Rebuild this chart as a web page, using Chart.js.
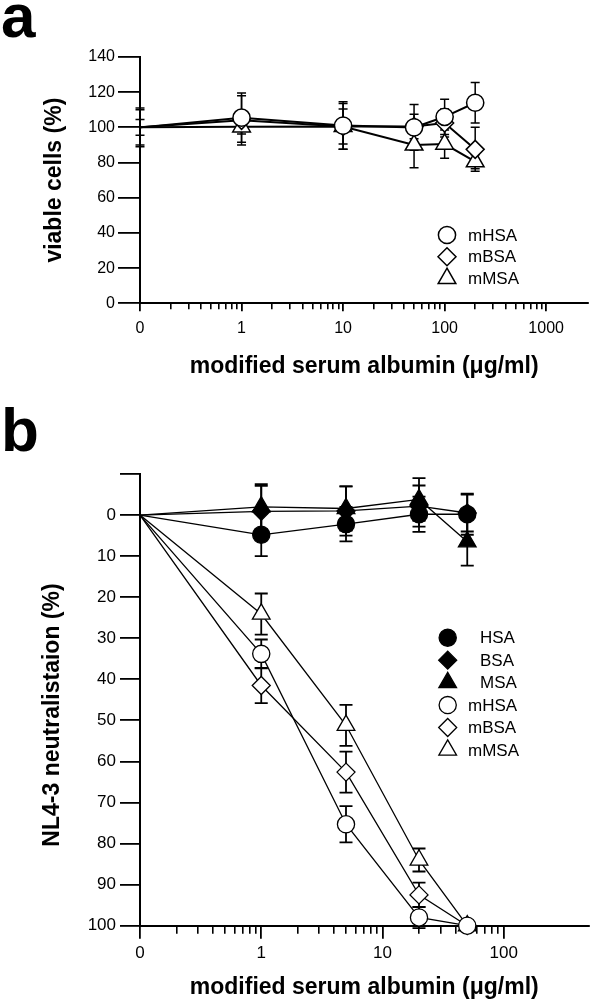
<!DOCTYPE html>
<html><head><meta charset="utf-8">
<script src="https://cdn.jsdelivr.net/npm/chart.js@4.4.1/dist/chart.umd.min.js"></script>
<style>
html,body{margin:0;padding:0;background:#fff;}
#wrap{position:relative;width:600px;height:1003px;overflow:hidden;background:#fff;}
canvas{position:absolute;left:0;}
.lbl{position:absolute;font-family:"Liberation Sans",Arial,Helvetica,sans-serif;font-weight:bold;font-size:62px;line-height:62px;color:#000;}
</style></head><body>
<div id="wrap">
<div class="lbl" style="left:1px;top:-15px">a</div>
<div class="lbl" style="left:1px;top:399px">b</div>
<canvas id="ca" width="600" height="400" style="top:0"></canvas>
<canvas id="cb" width="600" height="603" style="top:400px"></canvas>
</div>
<script>
const FONT = '"Liberation Sans", Arial, Helvetica, sans-serif';
const ZERO_AT = 0.1; // log-axis position where concentration 0 is plotted

// ---------- Panel a : viable cells (%) ----------
const concA = [0, 1, 10, 50, 100, 200];
const a_mHSA = [100, 105.5, 101, 100, 106, 114];
const a_mHSA_err = [11, 14, 13.5, 13, 10, 11.5];
const a_mBSA = [100, 104, 100.5, 100.5, 102.5, 87.5];
const a_mBSA_err = [10, 14, 13, 7, 8, 12.5];
const a_mMSA = [100, 100.3, 100.5, 90, 90.5, 80.5];
const a_mMSA_err = [4.5, 4, 10, 13, 8, 4];
const namesA = ['mHSA', 'mBSA', 'mMSA'];
const xMajorA = [0.1, 1, 10, 100, 1000];
const xLabelsA = ['0', '1', '10', '100', '1000'];
const xMinorA = [0.2,0.3,0.4,0.5,0.6,0.7,0.8,0.9, 2,3,4,5,6,7,8,9, 20,30,40,50,60,70,80,90, 200,300,400,500,600,700,800,900];
const yTicksA = [0, 20, 40, 60, 80, 100, 120, 140];

// ---------- Panel b : NL4-3 neutralisation (%) ----------
const concB = [0, 1, 5, 20, 50];
const b_HSA = [0, 4.8, 2.2, -0.2, -0.2];
const b_HSA_err = [0, 5.2, 4.2, 4.3, 5];
const b_BSA = [0, -0.9, -1.0, -2.2, -0.5];
const b_BSA_err = [0, 6.2, 6, 5, 4.5];
const b_MSA = [0, -2.0, -1.6, -3.8, 6.5];
const b_MSA_err = [0, 5.5, 5.4, 5.2, 5.8];
const b_mHSA = [0, 33.8, 75.3, 98, 100];
const b_mHSA_err = [0, 3.5, 4.4, 2.6, 0];
const b_mBSA = [0, 41.5, 62.6, 92.5, 100];
const b_mBSA_err = [0, 4.3, 5, 3, 0];
const b_mMSA = [0, 24.1, 51.2, 84.0, 100];
const b_mMSA_err = [0, 5, 5, 2.8, 0];
const namesB = ['HSA', 'BSA', 'MSA', 'mHSA', 'mBSA', 'mMSA'];
const xMajorB = [0.1, 1, 10, 100];
const xLabelsB = ['0', '1', '10', '100'];
const xMinorB = [0.2,0.3,0.4,0.5,0.6,0.7,0.8,0.9, 2,3,4,5,6,7,8,9, 20,30,40,50,60,70,80,90];
const yTicksB = [-10, 0, 10, 20, 30, 40, 50, 60, 70, 80, 90, 100];
const yLabelsB = ['', '0', '10', '20', '30', '40', '50', '60', '70', '80', '90', '100'];

// ---------- helpers ----------
const pts = (conc, vals) => conc.map((c, i) => ({x: c === 0 ? ZERO_AT : c, y: vals[i]}));
const STYLE = {circle: 8.6, rectRot: 9, triangle: 10.2};

function ds(label, conc, vals, errs, style, filled, lineW, ptBorder) {
  const r = STYLE[style];
  const radii = conc.map(c => (c === 0 ? 0 : r)); // no symbol at the zero-concentration start point
  return {
    label, data: pts(conc, vals), errors: errs, markerR: r,
    borderColor: '#000', borderWidth: lineW,
    pointStyle: style, pointRadius: radii, pointHoverRadius: radii,
    pointBackgroundColor: filled ? '#000' : '#fff', pointBorderColor: '#000',
    pointBorderWidth: ptBorder, tension: 0, fill: false, clip: false
  };
}

function markerPath(ctx, style, x, y, r) {
  ctx.beginPath();
  if (style === 'circle') { ctx.arc(x, y, r, 0, Math.PI * 2); }
  else if (style === 'rectRot') { ctx.moveTo(x - r, y); ctx.lineTo(x, y - r); ctx.lineTo(x + r, y); ctx.lineTo(x, y + r); }
  else if (style === 'triangle') {
    ctx.moveTo(x, y - r);
    ctx.lineTo(x + Math.sin(2 * Math.PI / 3) * r, y + 0.5 * r);
    ctx.lineTo(x - Math.sin(2 * Math.PI / 3) * r, y + 0.5 * r);
  }
  ctx.closePath();
}

const errorBars = {
  id: 'errorBars',
  beforeDatasetsDraw(chart, args, o) {
    const ctx = chart.ctx, ys = chart.scales.y;
    ctx.save();
    ctx.strokeStyle = '#000';
    ctx.lineWidth = o.lineWidth;
    chart.data.datasets.forEach((d, di) => {
      const meta = chart.getDatasetMeta(di);
      meta.data.forEach((p, i) => {
        const e = d.errors[i];
        if (!e) return;
        const v = d.data[i].y;
        const y1 = ys.getPixelForValue(v - e), y2 = ys.getPixelForValue(v + e);
        ctx.beginPath();
        ctx.moveTo(p.x, y1); ctx.lineTo(p.x, y2);
        ctx.moveTo(p.x - o.cap, y1); ctx.lineTo(p.x + o.cap, y1);
        ctx.moveTo(p.x - o.cap, y2); ctx.lineTo(p.x + o.cap, y2);
        ctx.stroke();
      });
    });
    ctx.restore();
  }
};

const innerLegend = {
  id: 'innerLegend',
  afterDraw(chart, args, o) {
    const ctx = chart.ctx;
    ctx.save();
    ctx.font = o.fontSize + 'px ' + FONT;
    ctx.textBaseline = 'middle';
    ctx.textAlign = 'left';
    chart.data.datasets.forEach((d, i) => {
      const y = o.y0 + i * o.dy;
      markerPath(ctx, d.pointStyle, o.markerX, y, d.markerR);
      ctx.fillStyle = d.pointBackgroundColor;
      ctx.fill();
      ctx.lineWidth = d.pointBorderWidth;
      ctx.strokeStyle = '#000';
      ctx.stroke();
      ctx.fillStyle = '#000';
      ctx.fillText(d.label, o.textX[i], y + 1);
    });
    ctx.restore();
  }
};

// y-axis title drawn at a set centre (the reference title is not centred on the axis)
const sideTitle = {
  id: 'sideTitle',
  afterDraw(chart, args, o) {
    if (!o.text) return;
    const ctx = chart.ctx;
    ctx.save();
    ctx.translate(o.x, o.y);
    ctx.rotate(-Math.PI / 2);
    ctx.font = 'bold ' + o.size + 'px ' + FONT;
    ctx.fillStyle = '#000';
    ctx.textAlign = 'center';
    ctx.textBaseline = 'middle';
    ctx.fillText(o.text, 0, 0);
    ctx.restore();
  }
};

function xAxes(major, labels, minor, maxV, majorLen, minorLen, fontSize, labPad, axisH, titlePadBottom) {
  return {
    x: {
      type: 'logarithmic', position: 'bottom', min: ZERO_AT, max: maxV, weight: 1,
      afterBuildTicks: s => { s.ticks = major.map(v => ({value: v})); },
      afterFit: s => { s.height = axisH; },
      grid: {drawOnChartArea: false, drawTicks: true, tickLength: majorLen, color: '#000', lineWidth: 1.8},
      border: {display: true, color: '#000', width: 2},
      ticks: {autoSkip: false, maxRotation: 0, color: '#000', padding: labPad,
        font: {family: FONT, size: fontSize}, callback: (v, i) => labels[i]},
      title: {display: true, text: 'modified serum albumin (μg/ml)', color: '#000',
        font: {family: FONT, size: 23, weight: 'bold'}, padding: {top: 0, bottom: titlePadBottom}}
    },
    xm: {
      type: 'logarithmic', position: 'bottom', min: ZERO_AT, max: maxV, weight: 0,
      afterBuildTicks: s => { s.ticks = minor.map(v => ({value: v})); },
      afterFit: s => { s.height = 0; },
      grid: {drawOnChartArea: false, drawTicks: true, tickLength: minorLen, color: '#000', lineWidth: 1.6},
      border: {display: false},
      ticks: {autoSkip: false, maxRotation: 0, padding: 0, font: {size: 1}, callback: () => ''}
    }
  };
}

// ---------- Panel a chart ----------
new Chart(document.getElementById('ca'), {
  type: 'line',
  data: {datasets: [
    ds(namesA[0], concA, a_mHSA, a_mHSA_err, 'circle', false, 2, 1.5),
    ds(namesA[1], concA, a_mBSA, a_mBSA_err, 'rectRot', false, 2, 1.5),
    ds(namesA[2], concA, a_mMSA, a_mMSA_err, 'triangle', false, 2, 1.5)
  ]},
  options: {
    responsive: false, animation: false, devicePixelRatio: 1,
    layout: {padding: {top: 57, right: 7, left: 0, bottom: 0}},
    plugins: {legend: {display: false}, tooltip: {enabled: false},
      errorBars: {lineWidth: 1.5, cap: 4.5},
      innerLegend: {markerX: 447, textX: [468, 468, 468], y0: 235, dy: 21.7, fontSize: 17},
      sideTitle: {text: ''}},
    scales: Object.assign(xAxes(xMajorA, xLabelsA, xMinorA, 2600, 8, 6, 16, 8, 96.7, 20), {
      y: {
        type: 'linear', min: 0, max: 140,
        afterBuildTicks: s => { s.ticks = yTicksA.map(v => ({value: v})); },
        afterFit: s => { s.width = 140; },
        grid: {drawOnChartArea: false, drawTicks: true, tickLength: 22, color: '#000', lineWidth: 1.8},
        border: {display: true, color: '#000', width: 2},
        ticks: {color: '#000', padding: 3, font: {family: FONT, size: 16}},
        title: {display: true, text: 'viable cells (%)', color: '#000',
          font: {family: FONT, size: 23, weight: 'bold'}, padding: {top: 41, bottom: 0}}
      }
    })
  },
  plugins: [errorBars, innerLegend, sideTitle]
});

// ---------- Panel b chart ----------
new Chart(document.getElementById('cb'), {
  type: 'line',
  data: {datasets: [
    ds(namesB[0], concB, b_HSA, b_HSA_err, 'circle', true, 1.3, 1.3),
    ds(namesB[1], concB, b_BSA, b_BSA_err, 'rectRot', true, 1.3, 1.3),
    ds(namesB[2], concB, b_MSA, b_MSA_err, 'triangle', true, 1.3, 1.3),
    ds(namesB[3], concB, b_mHSA, b_mHSA_err, 'circle', false, 1.3, 1.3),
    ds(namesB[4], concB, b_mBSA, b_mBSA_err, 'rectRot', false, 1.3, 1.3),
    ds(namesB[5], concB, b_mMSA, b_mMSA_err, 'triangle', false, 1.3, 1.3)
  ]},
  options: {
    responsive: false, animation: false, devicePixelRatio: 1,
    layout: {padding: {top: 74, right: 5, left: 0, bottom: 0}},
    plugins: {legend: {display: false}, tooltip: {enabled: false},
      errorBars: {lineWidth: 1.8, cap: 6.5},
      innerLegend: {markerX: 447.7, textX: [480, 480, 480, 468, 468, 468], y0: 237.7, dy: 22.46, fontSize: 17},
      sideTitle: {text: 'NL4-3 neutralistaion (%)', x: 53, y: 315, size: 23}},
    scales: Object.assign(xAxes(xMajorB, xLabelsB, xMinorB, 500, 13, 8, 17, 4, 77.3, 1.2), {
      y: {
        type: 'linear', min: -10, max: 100, reverse: true,
        afterBuildTicks: s => { s.ticks = yTicksB.map(v => ({value: v})); },
        afterFit: s => { s.width = 140; },
        grid: {drawOnChartArea: false, drawTicks: true, tickLength: 20, color: '#000', lineWidth: 1.8},
        border: {display: true, color: '#000', width: 2},
        ticks: {color: '#000', padding: 4, font: {family: FONT, size: 17}, callback: (v, i) => yLabelsB[i]},
        title: {display: false}
      }
    })
  },
  plugins: [errorBars, innerLegend, sideTitle]
});
</script>
</body></html>
